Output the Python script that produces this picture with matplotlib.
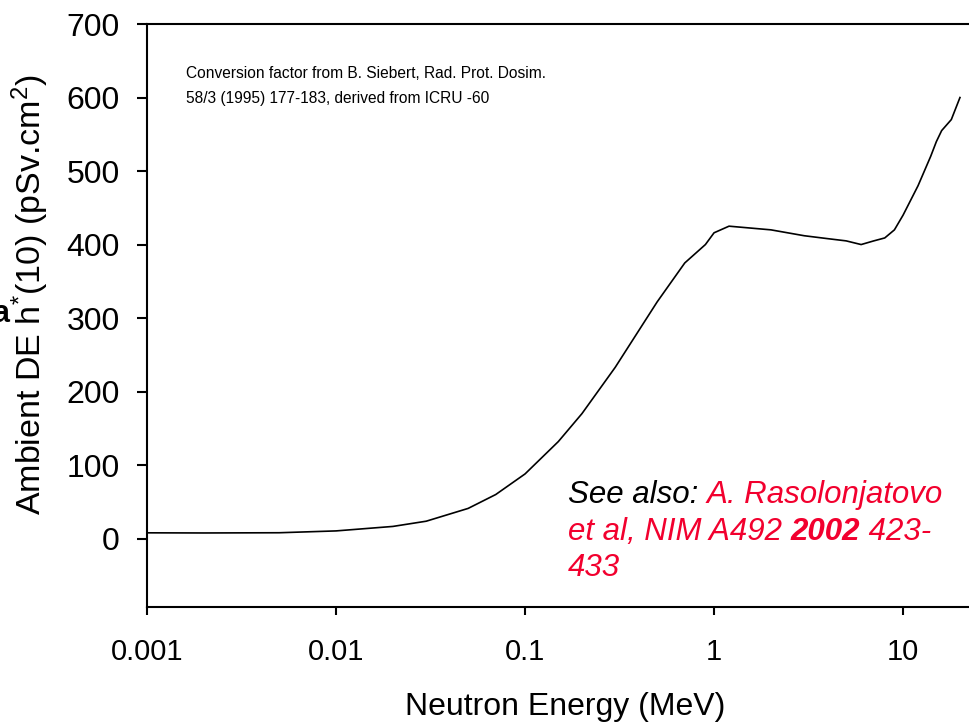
import matplotlib
matplotlib.use("Agg")
import matplotlib.pyplot as plt
import numpy as np

plt.rcParams['font.family'] = ['Liberation Sans', 'DejaVu Sans']
plt.rcParams['mathtext.fontset'] = 'custom'
plt.rcParams['mathtext.rm'] = 'Liberation Sans'
plt.rcParams['mathtext.it'] = 'Liberation Sans:italic'

# 数据：中子能量 (MeV) 与 h*(10) 转换系数 (pSv.cm2)
energy = [0.001, 0.002, 0.005, 0.01, 0.02, 0.03, 0.05, 0.07, 0.1, 0.15,
          0.2, 0.3, 0.5, 0.7, 0.9, 1.0, 1.2, 2.0, 3.0, 4.0, 5.0, 6.0,
          7.0, 8.0, 9.0, 10.0, 12.0, 14.0, 15.0, 16.0, 18.0, 20.0]
h10 = [7.9, 7.7, 8.0, 10.5, 16.6, 23.7, 41.1, 60.0, 88.0, 132,
       170, 233, 322, 375, 400, 416, 425, 420, 412, 408, 405, 400,
       405, 409, 420, 440, 480, 520, 540, 555, 570, 600]

x_ticks = [0.001, 0.01, 0.1, 1, 10]
x_tick_labels = ['0.001', '0.01', '0.1', '1', '10']
y_ticks = [0, 100, 200, 300, 400, 500, 600, 700]

red = '#f2002e'

fig = plt.figure(figsize=(9.7, 7.22), dpi=100)
ax = fig.add_axes([147 / 970, 1 - 607 / 722, 1 - 147 / 970, (607 - 24) / 722])

ax.plot(energy, h10, color='black', lw=1.2)
ax.set_xscale('log')
ax.set_xlim(0.001, 22.6)
ax.set_ylim(-93, 700)
ax.set_xticks(x_ticks)
ax.set_xticklabels(x_tick_labels)
ax.xaxis.set_minor_locator(matplotlib.ticker.NullLocator())
ax.set_yticks(y_ticks)

ax.spines['right'].set_visible(False)
for s in ['left', 'bottom', 'top']:
    ax.spines[s].set_linewidth(1.5)
ax.tick_params(axis='y', direction='out', length=7.5, width=1.5, labelsize=23, pad=12)
ax.tick_params(axis='x', direction='out', length=6, width=1.5, labelsize=21, pad=16)

# 坐标轴标题
fig.text(565 / 970, 1 - 707 / 722, 'Neutron Energy (MeV)', ha='center', va='center', fontsize=23)
fig.text(30 / 970, 1 - 295 / 722, r'Ambient DE h$^{*}$(10) (pSv.cm$^{2}$)',
         rotation=90, ha='center', va='center', fontsize=24.5)
fig.text(9 / 970, 1 - 322 / 722, 'a', ha='right', va='baseline', fontsize=22, fontweight='bold')

# 左上角说明
fig.text(186 / 970, 1 - 78.5 / 722, 'Conversion factor from B. Siebert, Rad. Prot. Dosim.',
         ha='left', va='baseline', fontsize=11.2)
fig.text(186 / 970, 1 - 103.5 / 722, '58/3 (1995) 177-183, derived from ICRU -60',
         ha='left', va='baseline', fontsize=11.2)

# 右下角参考文献（多色文字拼接）
x0 = 568 / 970
fs = 22.5
t = fig.text(x0, 1 - 503 / 722, 'See also: ', ha='left', va='baseline', fontsize=fs, style='italic')
ax.annotate('A. Rasolonjatovo', xy=(1, 0), xycoords=t, va='bottom', ha='left',
            fontsize=fs, style='italic', color=red)
t = fig.text(x0, 1 - 540 / 722, 'et al, NIM A492 ', ha='left', va='baseline', fontsize=fs, style='italic', color=red)
t = ax.annotate('2002', xy=(1, 0), xycoords=t, va='bottom', ha='left',
                fontsize=fs, style='italic', fontweight='bold', color=red)
ax.annotate(' 423-', xy=(1, 0), xycoords=t, va='bottom', ha='left',
            fontsize=fs, style='italic', color=red)
fig.text(x0, 1 - 576 / 722, '433', ha='left', va='baseline', fontsize=fs, style='italic', color=red)

fig.savefig('out.png', dpi=100)
